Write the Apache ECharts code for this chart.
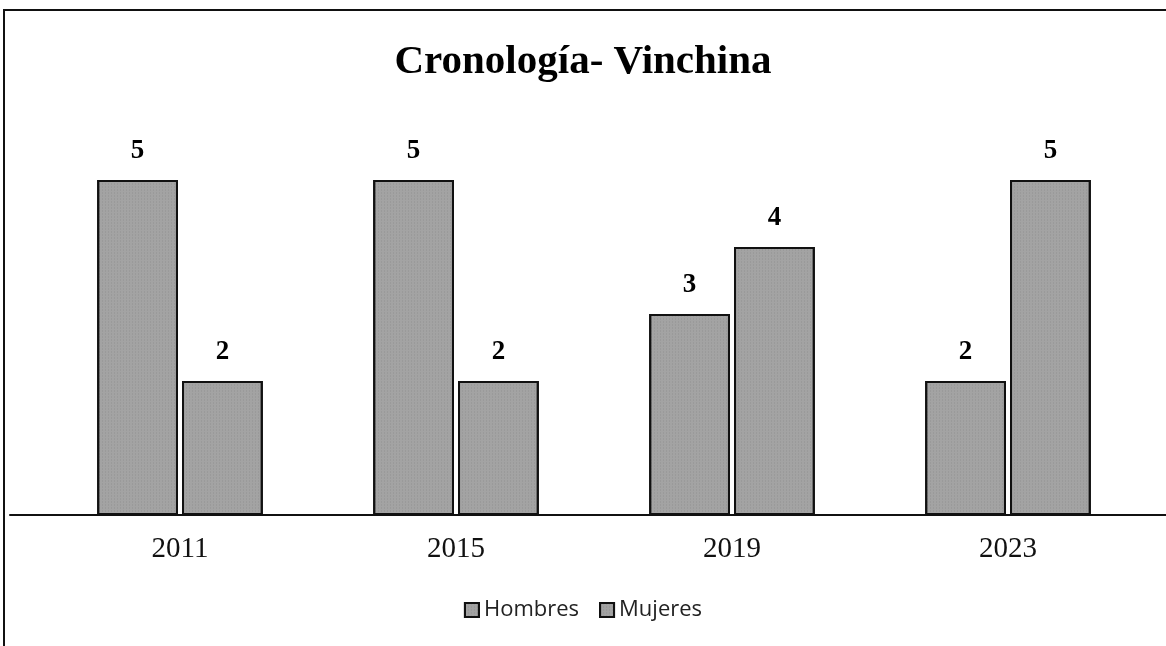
<!DOCTYPE html>
<html>
<head>
<meta charset="utf-8">
<script src="https://cdn.jsdelivr.net/npm/echarts@6/dist/echarts.min.js"></script>
<style>
    html, body { margin: 0; padding: 0; background: #fff; }
    #frame {
        position: absolute;
        left: 3px;
        top: 9px;
        width: 1163px;
        height: 637px;
        border-top: 2px solid #111;
        border-left: 2px solid #111;
    }
    #chart {
        position: absolute;
        left: 0;
        top: 0;
        width: 1166px;
        height: 646px;
    }
</style>
</head>
<body>
<div id="frame"></div>
<div id="chart"></div>
<script>
    const years = ['2011', '2015', '2019', '2023'];
    const hombres = [5, 5, 3, 2];
    const mujeres = [2, 2, 4, 5];

    const myChart = echarts.init(document.getElementById('chart'));

    // estilo comun de las barras (gris con borde negro)
    function barSeries(name, values) {
        return {
            name: name,
            type: 'bar',
            data: values,
            barGap: '5%',
            barCategoryGap: '40%',
            itemStyle: {
                color: '#a3a3a3',
                borderColor: '#111',
                borderWidth: 2,
                decal: {
                    symbol: 'rect',
                    symbolSize: 0.6,
                    dashArrayX: [1, 2],
                    dashArrayY: [2, 1],
                    color: 'rgba(80,80,80,0.35)',
                    rotation: 0
                }
            },
            label: {
                show: true,
                position: 'top',
                distance: 15,
                color: '#000',
                fontFamily: 'Liberation Serif',
                fontWeight: 'bold',
                fontSize: 27
            }
        };
    }

    const option = {
        animation: false,
        title: {
            text: 'Cronología- Vinchina',
            left: 'center',
            top: 37,
            textStyle: {
                fontFamily: 'Liberation Serif',
                fontWeight: 'bold',
                fontSize: 41,
                color: '#000'
            }
        },
        legend: {
            bottom: 20,
            left: 'center',
            icon: 'rect',
            itemWidth: 14,
            itemHeight: 14,
            itemGap: 20,
            textStyle: {
                fontFamily: 'Open Sans',
                fontSize: 22,
                color: '#222'
            },
            data: ['Hombres', 'Mujeres']
        },
        grid: [
            { left: 42, right: 20, top: 180, bottom: 131 },
            // linea base que cruza todo el ancho
            { left: 10, right: 0, top: 180, bottom: 131 }
        ],
        xAxis: [
            {
                type: 'category',
                gridIndex: 0,
                data: years,
                axisTick: { show: false },
                axisLine: { show: false },
                axisLabel: {
                    margin: 20,
                    fontFamily: 'Liberation Serif',
                    fontSize: 29,
                    color: '#111'
                }
            },
            {
                type: 'category',
                gridIndex: 1,
                data: years,
                axisTick: { show: false },
                axisLabel: { show: false },
                axisLine: { lineStyle: { color: '#111', width: 2 } }
            }
        ],
        yAxis: [
            { type: 'value', gridIndex: 0, min: 0, max: 5, show: false },
            { type: 'value', gridIndex: 1, min: 0, max: 5, show: false }
        ],
        series: [
            barSeries('Hombres', hombres),
            barSeries('Mujeres', mujeres)
        ]
    };

    myChart.setOption(option);
</script>
</body>
</html>
